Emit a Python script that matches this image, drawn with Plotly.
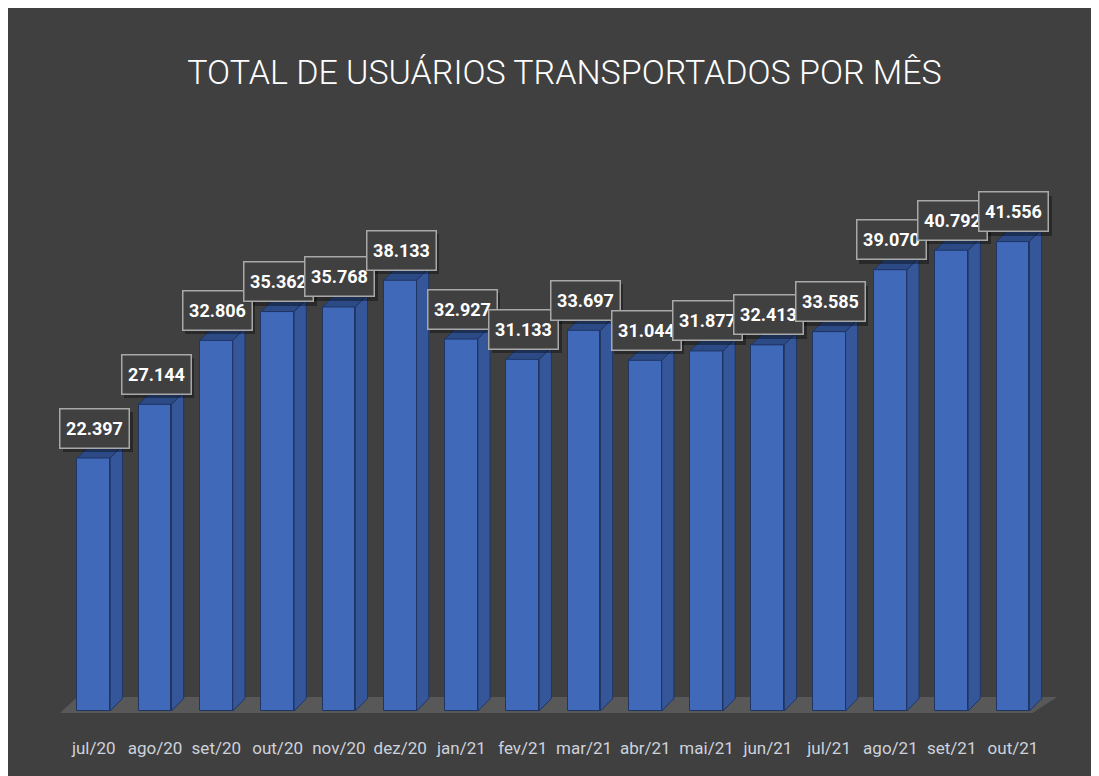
import plotly.graph_objects as go

# ---- data ----
months = ["jul/20", "ago/20", "set/20", "out/20", "nov/20", "dez/20", "jan/21", "fev/21",
          "mar/21", "abr/21", "mai/21", "jun/21", "jul/21", "ago/21", "set/21", "out/21"]
users = [22397, 27144, 32806, 35362, 35768, 38133, 32927, 31133,
         33697, 31044, 31877, 32413, 33585, 39070, 40792, 41556]
labels = ["22.397", "27.144", "32.806", "35.362", "35.768", "38.133", "32.927", "31.133",
          "33.697", "31.044", "31.877", "32.413", "33.585", "39.070", "40.792", "41.556"]

# ---- style constants ----
W, H = 1091, 768
BG = "#404040"
FRONT = "#4169B9"
SIDE = "#35579A"
TOP = "#2C4A85"
EDGE = "#1F3563"
BAR_W = 0.535
DX = 0.20          # depth offset in x units
DY = 1100          # depth offset in y units
X_RANGE = [-0.6, 15.8]
Y_RANGE = [-443, 48957]
ML, MR, MT, MB = 48.7, 37, 150, 60
FONT = "Roboto, Arial, sans-serif"

idx = list(range(len(months)))

fig = go.Figure()

# side faces
sx, sy = [], []
for i, v in zip(idx, users):
    xr = i + BAR_W / 2
    sx += [xr, xr + DX, xr + DX, xr, xr, None]
    sy += [0, DY, v + DY, v, 0, None]
fig.add_trace(go.Scatter(x=sx, y=sy, mode="lines", fill="toself", fillcolor=SIDE,
                         line=dict(color=EDGE, width=1), hoverinfo="skip", showlegend=False))
# top faces
tx, ty = [], []
for i, v in zip(idx, users):
    xl, xr = i - BAR_W / 2, i + BAR_W / 2
    tx += [xl, xl + DX, xr + DX, xr, xl, None]
    ty += [v, v + DY, v + DY, v, v, None]
fig.add_trace(go.Scatter(x=tx, y=ty, mode="lines", fill="toself", fillcolor=TOP,
                         line=dict(color=EDGE, width=1), hoverinfo="skip", showlegend=False))
# front faces
fig.add_trace(go.Bar(x=idx, y=users, width=BAR_W,
                     marker=dict(color=FRONT, line=dict(color=EDGE, width=1)),
                     hoverinfo="x+y", showlegend=False))

# floor
floor_path = "M -0.55 -180 L 15.32 -180 L 15.72 1240 L -0.27 1240 Z"
shapes = [dict(type="path", xref="x", yref="y", path=floor_path, fillcolor="#585858",
               line=dict(width=0), layer="below")]

annotations = []
for i, v, t in zip(idx, users, labels):
    annotations.append(dict(x=i, y=v, xref="x", yref="y", text=t, showarrow=False,
                            xshift=4, yshift=26, width=68, height=38,
                            bgcolor="rgba(0,0,0,0.35)", borderwidth=0,
                            font=dict(family=FONT, size=18, color="rgba(0,0,0,0)")))
for i, v, t in zip(idx, users, labels):
    annotations.append(dict(x=i, y=v, xref="x", yref="y", text="<b>" + t + "</b>", showarrow=False,
                            xshift=1, yshift=30, width=66, height=36,
                            bgcolor=BG, bordercolor="#A8A8A8", borderwidth=1.5, borderpad=1,
                            font=dict(family=FONT, size=18, color="white")))

fig.update_layout(
    width=W, height=H,
    paper_bgcolor=BG, plot_bgcolor="rgba(0,0,0,0)",
    margin=dict(l=ML, r=MR, t=MT, b=MB),
    title=dict(text="TOTAL DE USUÁRIOS TRANSPORTADOS POR MÊS", xref="container", yref="container",
               x=556.5 / W, y=1 - 64 / H, xanchor="center", yanchor="middle",
               font=dict(family=FONT, size=34, color="white", weight=300)),
    xaxis=dict(range=X_RANGE, tickmode="array", tickvals=idx, ticktext=months,
               showgrid=False, zeroline=False, showline=False, ticks="",
               tickfont=dict(family=FONT, size=17, color="#CDD2DC"), ticklabelstandoff=20),
    yaxis=dict(range=Y_RANGE, showgrid=False, zeroline=False, showticklabels=False, showline=False),
    shapes=shapes, annotations=annotations,
    bargap=0,
)

fig.write_html("out.html")
